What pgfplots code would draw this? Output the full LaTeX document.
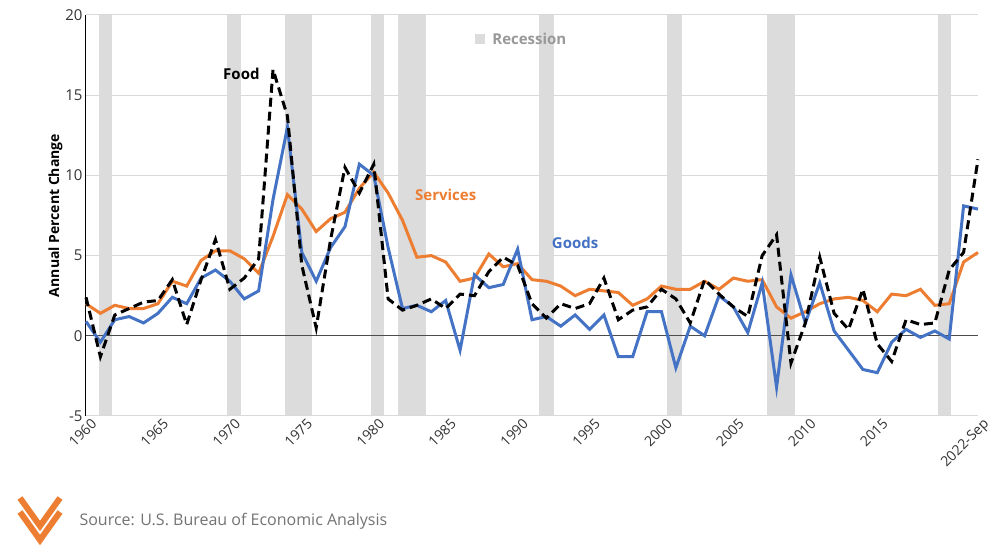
\documentclass[border=0pt]{standalone}
\usepackage{pgfplots}
\pgfplotsset{compat=1.18}
\usepackage{fontspec}
\setmainfont{Open Sans}
\definecolor{gblue}{HTML}{4472C4}
\definecolor{sorange}{HTML}{ED7D31}
\definecolor{recg}{HTML}{DCDCDC}
\begin{document}
\begin{tikzpicture}[x=1pt,y=1pt]
\useasboundingbox (0,0) rectangle (1005,546);
\begin{axis}[at={(86pt,130pt)},anchor=south west,scale only axis,width=892pt,height=401pt,
 xmin=1960,xmax=2022,ymin=-5,ymax=20,
 ytick={-5,0,...,20}, xtick={1960,1965,...,2015,2022},
 xticklabels={1960,1965,1970,1975,1980,1985,1990,1995,2000,2005,2010,2015,2022-Sep},
 xticklabel style={rotate=45,anchor=north east,font=\fontsize{14}{16}\selectfont,text=black!80,xshift=3pt,yshift=-3pt,inner sep=1pt},
 yticklabel style={font=\fontsize{15}{18}\selectfont,text=black!80},
 /pgf/number format/assume math mode=true,
 ymajorgrids, grid style={black!15,line width=1pt},
 axis x line*=bottom, x axis line style={draw=none}, axis y line*=left, y axis line style={black,line width=1pt},
 major tick length=0pt, tick style={draw=none},
 ylabel={\bfseries Annual Percent Change}, ylabel style={font=\fontsize{14}{16}\selectfont,yshift=-4pt},
 clip=false]
\foreach \a/\b in {1960.9/1961.8,1969.8/1970.8,1973.8/1975.7,1979.8/1980.7,1981.7/1983.6,1991.5/1992.5,2000.4/2001.4,2007.3/2009.3,2019.2/2020.1}{
 \edef\tmp{\noexpand\addplot[fill=recg,draw=none,forget plot] coordinates {(\a,-5) (\b,-5) (\b,20) (\a,20)} --cycle;}\tmp}
\addplot[black!15,line width=1pt,forget plot] coordinates {(1960,-5) (2022,-5)};
\addplot[black!70,line width=1pt,forget plot] coordinates {(1960,0) (2022,0)};
\addplot[sorange,line width=3pt] coordinates {
(1960,2.0)(1961,1.4)(1962,1.9)(1963,1.7)(1964,1.7)(1965,2.0)(1966,3.4)(1967,3.1)(1968,4.7)(1969,5.3)
(1970,5.3)(1971,4.8)(1972,3.9)(1973,6.2)(1974,8.8)(1975,7.9)(1976,6.5)(1977,7.3)(1978,7.7)(1979,9.2)
(1980,10.2)(1981,8.9)(1982,7.2)(1983,4.9)(1984,5.0)(1985,4.6)(1986,3.4)(1987,3.6)(1988,5.1)(1989,4.3)
(1990,4.5)(1991,3.5)(1992,3.4)(1993,3.1)(1994,2.5)(1995,2.9)(1996,2.8)(1997,2.7)(1998,1.9)(1999,2.3)
(2000,3.1)(2001,2.9)(2002,2.9)(2003,3.4)(2004,2.9)(2005,3.6)(2006,3.4)(2007,3.5)(2008,1.8)(2009,1.1)
(2010,1.5)(2011,2.0)(2012,2.3)(2013,2.4)(2014,2.2)(2015,1.5)(2016,2.6)(2017,2.5)(2018,2.9)(2019,1.9)
(2020,2.0)(2021,4.6)(2022,5.2)};
\addplot[gblue,line width=3pt] coordinates {
(1960,0.9)(1961,-0.4)(1962,1.0)(1963,1.2)(1964,0.8)(1965,1.4)(1966,2.4)(1967,2.0)(1968,3.6)(1969,4.1)
(1970,3.4)(1971,2.3)(1972,2.8)(1973,8.5)(1974,13.0)(1975,5.2)(1976,3.4)(1977,5.5)(1978,6.8)(1979,10.7)
(1980,10.0)(1981,5.5)(1982,1.7)(1983,1.9)(1984,1.5)(1985,2.2)(1986,-0.9)(1987,3.8)(1988,3.0)(1989,3.2)
(1990,5.4)(1991,1.0)(1992,1.2)(1993,0.6)(1994,1.3)(1995,0.4)(1996,1.3)(1997,-1.3)(1998,-1.3)(1999,1.5)
(2000,1.5)(2001,-2.0)(2002,0.6)(2003,0.0)(2004,2.5)(2005,1.8)(2006,0.2)(2007,3.3)(2008,-3.2)(2009,3.8)
(2010,0.8)(2011,3.3)(2012,0.3)(2013,-0.9)(2014,-2.1)(2015,-2.3)(2016,-0.4)(2017,0.4)(2018,-0.1)(2019,0.3)
(2020,-0.2)(2021,8.1)(2022,7.9)};
\addplot[black,line width=3pt,dash pattern=on 9pt off 5pt] coordinates {
(1960,2.4)(1961,-1.3)(1962,1.3)(1963,1.7)(1964,2.1)(1965,2.2)(1966,3.5)(1967,0.7)(1968,3.5)(1969,6.0)
(1970,2.9)(1971,3.6)(1972,4.8)(1973,16.6)(1974,13.7)(1975,4.4)(1976,0.5)(1977,6.0)(1978,10.5)(1979,8.9)
(1980,10.7)(1981,2.3)(1982,1.6)(1983,1.9)(1984,2.3)(1985,1.7)(1986,2.6)(1987,2.5)(1988,4.0)(1989,4.9)
(1990,4.4)(1991,2.0)(1992,1.1)(1993,2.0)(1994,1.7)(1995,2.0)(1996,3.6)(1997,1.0)(1998,1.6)(1999,1.8)
(2000,2.9)(2001,2.3)(2002,0.8)(2003,3.5)(2004,2.6)(2005,1.8)(2006,1.2)(2007,5.0)(2008,6.3)(2009,-1.7)
(2010,0.8)(2011,4.9)(2012,1.4)(2013,0.4)(2014,2.9)(2015,-0.5)(2016,-1.6)(2017,1.0)(2018,0.7)(2019,0.8)
(2020,4.1)(2021,5.2)(2022,11.0)};
\node[font=\fontsize{15}{18}\selectfont\bfseries] at (axis cs:1970.8,16.3) {Food};
\node[font=\fontsize{15}{18}\selectfont\bfseries,text=sorange] at (axis cs:1985,8.8) {Services};
\node[font=\fontsize{15}{18}\selectfont\bfseries,text=gblue] at (axis cs:1994,5.8) {Goods};
\node[fill=recg,minimum size=10pt,inner sep=0pt] at (axis cs:1987.4,18.5) {};
\node[font=\fontsize{15}{18}\selectfont\bfseries,text=black!40,anchor=west] at (axis cs:1988.0,18.5) {Recession};
\end{axis}
\node[anchor=west,font=\fontsize{16}{19}\selectfont,text=black!55] at (76,25) {Source: U.S. Bureau of Economic Analysis};
\begin{scope}[sorange,line width=6pt]
\draw (20,48) -- (40,20) -- (60,48);
\draw (20,34) -- (40,6) -- (60,34);
\end{scope}
\end{tikzpicture}
\end{document}
